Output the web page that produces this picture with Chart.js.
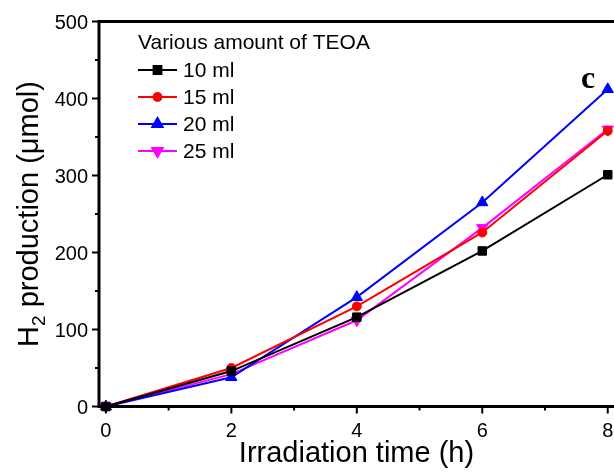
<!DOCTYPE html>
<html>
<head>
<meta charset="utf-8">
<script src="https://cdn.jsdelivr.net/npm/chart.js@4.4.1/dist/chart.umd.min.js"></script>
<style>
    body { margin: 0; background: #fff; }
    #wrap { width: 614px; height: 472px; }
</style>
</head>
<body>
<div id="wrap"><canvas id="h2Chart" width="614" height="472"></canvas></div>
<script>
// data
const timeH = [0, 2, 4, 6, 8];
const ml10 = [0, 46, 116, 202, 301];
const ml15 = [0, 50, 130, 226, 358];
const ml20 = [0, 38, 142, 265, 412];
const ml25 = [0, 42, 112, 232, 360];
const seriesNames = ['10 ml', '15 ml', '20 ml', '25 ml'];
const xTicks = [0, 1, 2, 3, 4, 5, 6, 7, 8];
const yTicks = [0, 50, 100, 150, 200, 250, 300, 350, 400, 450, 500];

const SANS = '"Liberation Sans", Arial, Helvetica, sans-serif';

function pts(vals) {
    return timeH.map((t, i) => ({ x: t, y: vals[i] }));
}

function makeSet(label, vals, color, style, radius, rotation) {
    return {
        label: label,
        data: pts(vals),
        borderColor: color,
        backgroundColor: color,
        borderWidth: 2,
        pointStyle: style,
        pointRadius: radius,
        pointRotation: rotation || 0,
        pointBorderWidth: 1,
        pointBorderColor: color,
        pointBackgroundColor: color,
        tension: 0,
        fill: false,
        clip: false
    };
}

// axes, ticks, labels and titles drawn from the chart's scales
const framePlugin = {
    id: 'frame',
    afterDraw(chart) {
        const ctx = chart.ctx;
        const a = chart.chartArea;
        const xs = chart.scales.x;
        const ys = chart.scales.y;
        ctx.save();
        ctx.strokeStyle = '#000';
        ctx.fillStyle = '#000';

        // ticks
        ctx.lineWidth = 2;
        xTicks.forEach(v => {
            const px = xs.getPixelForValue(v);
            const len = v % 2 === 0 ? 7 : 4;
            ctx.beginPath();
            ctx.moveTo(px, a.bottom);
            ctx.lineTo(px, a.bottom + len);
            ctx.stroke();
        });
        yTicks.forEach(v => {
            const py = ys.getPixelForValue(v);
            const len = v % 100 === 0 ? 7 : 4;
            ctx.beginPath();
            ctx.moveTo(a.left, py);
            ctx.lineTo(a.left - len, py);
            ctx.stroke();
        });

        // frame
        ctx.lineWidth = 3;
        ctx.beginPath();
        ctx.moveTo(a.right + 2, a.top);
        ctx.lineTo(a.left, a.top);
        ctx.lineTo(a.left, a.bottom);
        ctx.lineTo(a.right + 2, a.bottom);
        ctx.stroke();

        // tick labels
        ctx.font = '20px ' + SANS;
        ctx.textAlign = 'center';
        ctx.textBaseline = 'alphabetic';
        xTicks.filter(v => v % 2 === 0).forEach(v => {
            ctx.fillText(String(v), xs.getPixelForValue(v), 437);
        });
        ctx.textAlign = 'right';
        yTicks.filter(v => v % 100 === 0).forEach(v => {
            ctx.fillText(String(v), 88, ys.getPixelForValue(v) + 7);
        });

        // x title
        ctx.font = '29px ' + SANS;
        ctx.textAlign = 'center';
        ctx.fillText('Irradiation time (h)', (a.left + a.right) / 2, 462);

        // y title with subscript
        ctx.save();
        ctx.translate(38, (a.top + a.bottom) / 2);
        ctx.rotate(-Math.PI / 2);
        ctx.textAlign = 'left';
        const big = '29px ' + SANS;
        const small = '19px ' + SANS;
        ctx.font = big;
        const wH = ctx.measureText('H').width;
        const wRest = ctx.measureText(' production (\u03bcmol)').width;
        ctx.font = small;
        const w2 = ctx.measureText('2').width;
        let x0 = -(wH + w2 + wRest) / 2;
        ctx.font = big;
        ctx.fillText('H', x0, 0);
        ctx.font = small;
        ctx.fillText('2', x0 + wH, 7);
        ctx.font = big;
        ctx.fillText(' production (\u03bcmol)', x0 + wH + w2, 0);
        ctx.restore();

        // legend
        ctx.font = '21px ' + SANS;
        ctx.textAlign = 'left';
        ctx.fillText('Various amount of TEOA', 138, 49);
        chart.data.datasets.forEach((ds, i) => {
            const ly = 70 + i * 27;
            ctx.strokeStyle = ds.borderColor;
            ctx.lineWidth = 2;
            ctx.beginPath();
            ctx.moveTo(138, ly);
            ctx.lineTo(177, ly);
            ctx.stroke();
            ctx.fillStyle = ds.borderColor;
            Chart.helpers.drawPoint(ctx, {
                pointStyle: ds.pointStyle,
                radius: ds.pointRadius - 0.5,
                rotation: ds.pointRotation,
                borderWidth: 1
            }, 157.5, ly);
            ctx.fillStyle = '#000';
            ctx.fillText(seriesNames[i], 183, ly + 7);
        });

        // panel letter
        ctx.font = 'bold 32px "Liberation Serif", "Times New Roman", serif';
        ctx.fillText('c', 581, 88);
        ctx.restore();
    }
};

new Chart(document.getElementById('h2Chart'), {
    type: 'line',
    data: {
        datasets: [
            makeSet(seriesNames[0], ml10, '#000000', 'rect', 6),
            makeSet(seriesNames[1], ml15, '#ff0000', 'circle', 4.5),
            makeSet(seriesNames[2], ml20, '#0000ff', 'triangle', 6.5),
            makeSet(seriesNames[3], ml25, '#ff00ff', 'triangle', 6.5, 180)
        ]
    },
    options: {
        responsive: false,
        animation: false,
        layout: { autoPadding: false, padding: { left: 99, top: 21.5, right: 0, bottom: 65.5 } },
        plugins: { legend: { display: false }, tooltip: { enabled: false } },
        scales: {
            x: { type: 'linear', min: -0.11, max: 8.1, display: false },
            y: { type: 'linear', min: 0, max: 500, display: false }
        }
    },
    plugins: [framePlugin]
});
</script>
</body>
</html>
